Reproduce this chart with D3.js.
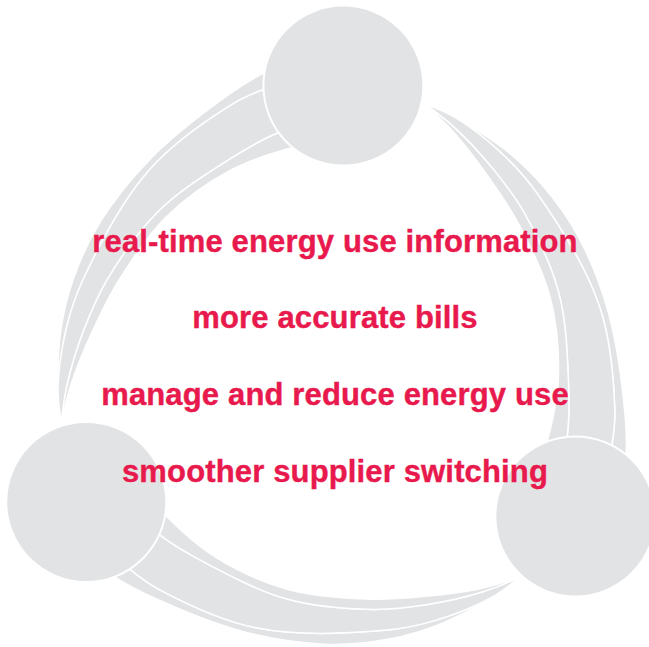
<!DOCTYPE html>
<html>
<head>
<meta charset="utf-8">
<script src="https://cdn.jsdelivr.net/npm/d3@7"></script>
<style>
  body { margin: 0; background: #fff; }
</style>
</head>
<body>
<div id="chart"></div>
<script>
// benefits listed in the middle of the cycle
const labels = [
  "real-time energy use information",
  "more accurate bills",
  "manage and reduce energy use",
  "smoother supplier switching"
];
// the three stations of the cycle, clockwise from the top
const stations = ["top", "right", "left"];

const width = 649, height = 647;
const cx = 335, cy = 368;      // centre of the ring
const ringR = 282.5, nodeR = 80;
const startAngle = 1.7;        // degrees, clockwise from 12 o'clock
const grey = "#e2e3e5", red = "#e8194c";

// swoosh profile, in the frame of the station it leaves from:
// [degrees back toward the previous station, radius]
const edgeOuter = [[-3,320],[-15.2,303.6],[-22.4,294],[-43,279],[-60,276.5],[-73,276.4],[-84,276.8],[-96,278.3]];
const edgeLine1 = [[-3,296],[-15.9,287.5],[-23.3,282.8],[-45,271.5],[-72.4,267],[-83.6,271.7],[-96,277.8],[-103,279]];
const edgeLine2 = [[-3,250],[-15.4,241.9],[-28,234],[-50,236],[-70.6,244.4],[-83,253.9],[-95,268],[-103,279]];
const edgeInner = [[-3,227],[-13,224.4],[-29.4,223.6],[-50,226.5],[-69.5,233.2],[-82.8,245],[-95,264],[-103,279]];

const radial = d3.lineRadial()
  .angle(d => d[0] * Math.PI / 180)
  .radius(d => d[1])
  .curve(d3.curveCatmullRom);

// closed crescent from two edges: a forward, b back
function crescent(a, b) {
  return radial(a) + radial(b.slice().reverse()).replace(/^M/, "L") + "Z";
}

const crescents = [
  crescent(edgeOuter, edgeLine1.filter(d => d[0] >= -96)),
  crescent(edgeLine1, edgeLine2),
  crescent(edgeLine2, edgeInner)
];

const angle = d3.scaleLinear().domain([0, stations.length]).range([startAngle, startAngle + 360]);

const svg = d3.select("#chart").append("svg")
  .attr("width", width)
  .attr("height", height)
  .attr("viewBox", [0, 0, width, height]);

const bands = svg.append("g")
  .selectAll("g")
  .data(stations)
  .join("g")
    .attr("transform", (d, i) => `translate(${cx},${cy}) rotate(${angle(i)})`);

bands.selectAll("path")
  .data(crescents)
  .join("path")
    .attr("d", d => d)
    .attr("fill", grey)
    .attr("stroke", "#fff")
    .attr("stroke-width", 1.5)
    .attr("stroke-linejoin", "round");

svg.append("g")
  .selectAll("circle")
  .data(stations)
  .join("circle")
    .attr("cx", (d, i) => cx + ringR * Math.sin(angle(i) * Math.PI / 180))
    .attr("cy", (d, i) => cy - ringR * Math.cos(angle(i) * Math.PI / 180))
    .attr("r", nodeR)
    .attr("fill", grey)
    .attr("stroke", "#fff")
    .attr("stroke-width", 2);

const y = d3.scalePoint().domain(labels).range([251.7, 481.6]);

// Helvetica-like bold; a hairline stroke thickens it a little
svg.append("g")
  .attr("font-family", "'Liberation Sans', Arial, Helvetica, sans-serif")
  .attr("font-weight", "bold")
  .attr("font-size", 31)
  .attr("letter-spacing", 0.15)
  .attr("fill", red)
  .attr("stroke", red)
  .attr("stroke-width", 0.4)
  .attr("text-anchor", "middle")
  .selectAll("text")
  .data(labels)
  .join("text")
    .attr("x", cx)
    .attr("y", d => y(d))
    .text(d => d);
</script>
</body>
</html>
